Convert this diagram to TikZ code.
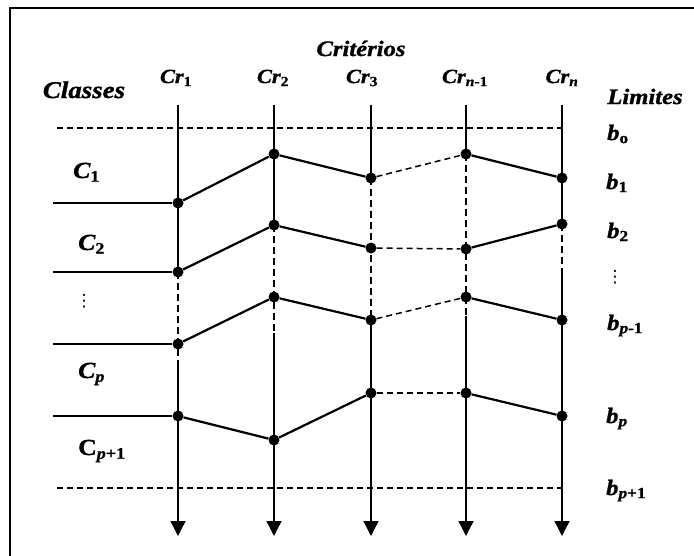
\documentclass[tikz,border=0pt]{standalone}
\usepackage{fontspec}
\setmainfont{Liberation Serif}
\newfontfamily\figfont{Liberation Serif}[FakeStretch=1.12,
  BoldFeatures={FakeBold=1.2}, BoldItalicFeatures={FakeBold=1.2}]
\newfontfamily\dotfont{DejaVu Sans}
\usetikzlibrary{arrows.meta}

\newcommand{\crit}[1]{\textit{Cr}\textsubscript{#1}}
\newcommand{\bound}[1]{\textit{b}\textsubscript{#1}}

\begin{document}
\begin{tikzpicture}[
  x=1pt, y=-1pt,
  axis/.style={line width=1.3pt},
  axisdash/.style={line width=1.3pt, dash pattern=on 7pt off 4pt},
  limitline/.style={line width=1.3pt, dash pattern=on 6pt off 4pt},
  classline/.style={line width=1.4pt},
  profile/.style={line width=2.2pt},
  profiledash/.style={line width=1.5pt, dash pattern=on 6pt off 4pt},
  pt/.style={circle, fill=black, inner sep=0pt, minimum size=11pt},
  txt/.style={inner sep=0pt, font=\figfont\bfseries\itshape}
]
\useasboundingbox (0,0) rectangle (694,555);

% frame
\coordinate (fbl) at (10,570);
\coordinate (ftl) at (10,8);
\coordinate (ftr) at (710,8);
\draw[line width=1.5pt] (fbl) -- (ftl) -- (ftr);

% criteria axes
\foreach \i/\x/\ds/\de in {1/178/272/366, 2/274/225/333, 3/371/178/320, 4/466/154/316, 5/562/224/270} {
  \coordinate (top\i) at (\x,105);
  \coordinate (ds\i) at (\x,\ds);
  \coordinate (de\i) at (\x,\de);
  \coordinate (end\i) at (\x,536);
  \draw[axis] (top\i) -- (ds\i);
  \draw[axisdash] (ds\i) -- (de\i);
  \draw[axis, -{Triangle[length=15pt, width=15pt]}] (de\i) -- (end\i);
}

% outer limits b0 and bp+1
\coordinate (l0a) at (57,128);
\coordinate (l0b) at (562,128);
\coordinate (lza) at (57,488);
\coordinate (lzb) at (562,488);
\draw[limitline] (l0a) -- (l0b);
\draw[limitline] (lza) -- (lzb);

% limit profiles
\foreach \r/\ya/\yb/\yc/\yd/\ye in {b1/203/154/178/154/178, b2/272/225/248/249/224,
                                    bq/344/297/320/297/320, bp/416/440/393/393/416} {
  \coordinate (\r-0) at (53,\ya);
  \node[pt] (\r-1) at (178,\ya) {};
  \node[pt] (\r-2) at (274,\yb) {};
  \node[pt] (\r-3) at (371,\yc) {};
  \node[pt] (\r-4) at (466,\yd) {};
  \node[pt] (\r-5) at (562,\ye) {};
  \draw[classline] (\r-0) -- (\r-1);
  \draw[profile] (\r-1) -- (\r-2) -- (\r-3);
  \draw[profiledash] (\r-3) -- (\r-4);
  \draw[profile] (\r-4) -- (\r-5);
}

% headings
\node[txt, anchor=base, font=\figfont\bfseries\itshape\fontsize{22}{24}\selectfont] (crits) at (361,56) {Critérios};
\node[txt, anchor=base, font=\figfont\bfseries\itshape\fontsize{24}{26}\selectfont] (classes) at (84,98) {Classes};
\node[txt, anchor=base, font=\figfont\bfseries\itshape\fontsize{22}{24}\selectfont] (limites) at (645,104) {Limites};

% criteria labels
\begin{scope}[every node/.append style={txt, anchor=base, font=\figfont\bfseries\itshape\fontsize{20}{22}\selectfont}]
  \node (cr1) at (176,83) {\crit{\textup{1}}};
  \node (cr2) at (273,83) {\crit{\textup{2}}};
  \node (cr3) at (362,83) {\crit{\textup{3}}};
  \node (crm) at (465,83) {\crit{\textit{n}\textup{-1}}};
  \node (crn) at (562,83) {\crit{\textit{n}}};
\end{scope}

% limit labels
\begin{scope}[every node/.append style={txt, anchor=base west, font=\figfont\bfseries\itshape\fontsize{22}{24}\selectfont}]
  \node (lb0) at (607,140) {\bound{\textup{o}}};
  \node (lb1) at (606,189) {\bound{\textup{1}}};
  \node (lb2) at (607,238) {\bound{\textup{2}}};
  \node (lbq) at (607,330) {\bound{\textit{p}\textup{-1}}};
  \node (lbp) at (606,423) {\bound{\textit{p}}};
  \node (lbz) at (606,495) {\bound{\textit{p}\textup{+1}}};
\end{scope}
\node[inner sep=0pt, font=\dotfont\fontsize{17}{19}\selectfont] (ldots) at (615,277) {⋮};

% class labels
\begin{scope}[every node/.append style={txt, anchor=base west, font=\figfont\bfseries\itshape\fontsize{23}{25}\selectfont}]
  \node (cl1) at (73,178) {\textit{C}\textsubscript{\textup{1}}};
  \node (cl2) at (78,250) {\textit{C}\textsubscript{\textup{2}}};
  \node (clp) at (78,378) {\textit{C}\textsubscript{\textit{p}}};
  \node (clz) at (78,455) {\textup{C}\textsubscript{\textit{p}\textup{+1}}};
\end{scope}
\node[inner sep=0pt, font=\dotfont\fontsize{17}{19}\selectfont] (cdots) at (84,301) {⋮};

\end{tikzpicture}
\end{document}
